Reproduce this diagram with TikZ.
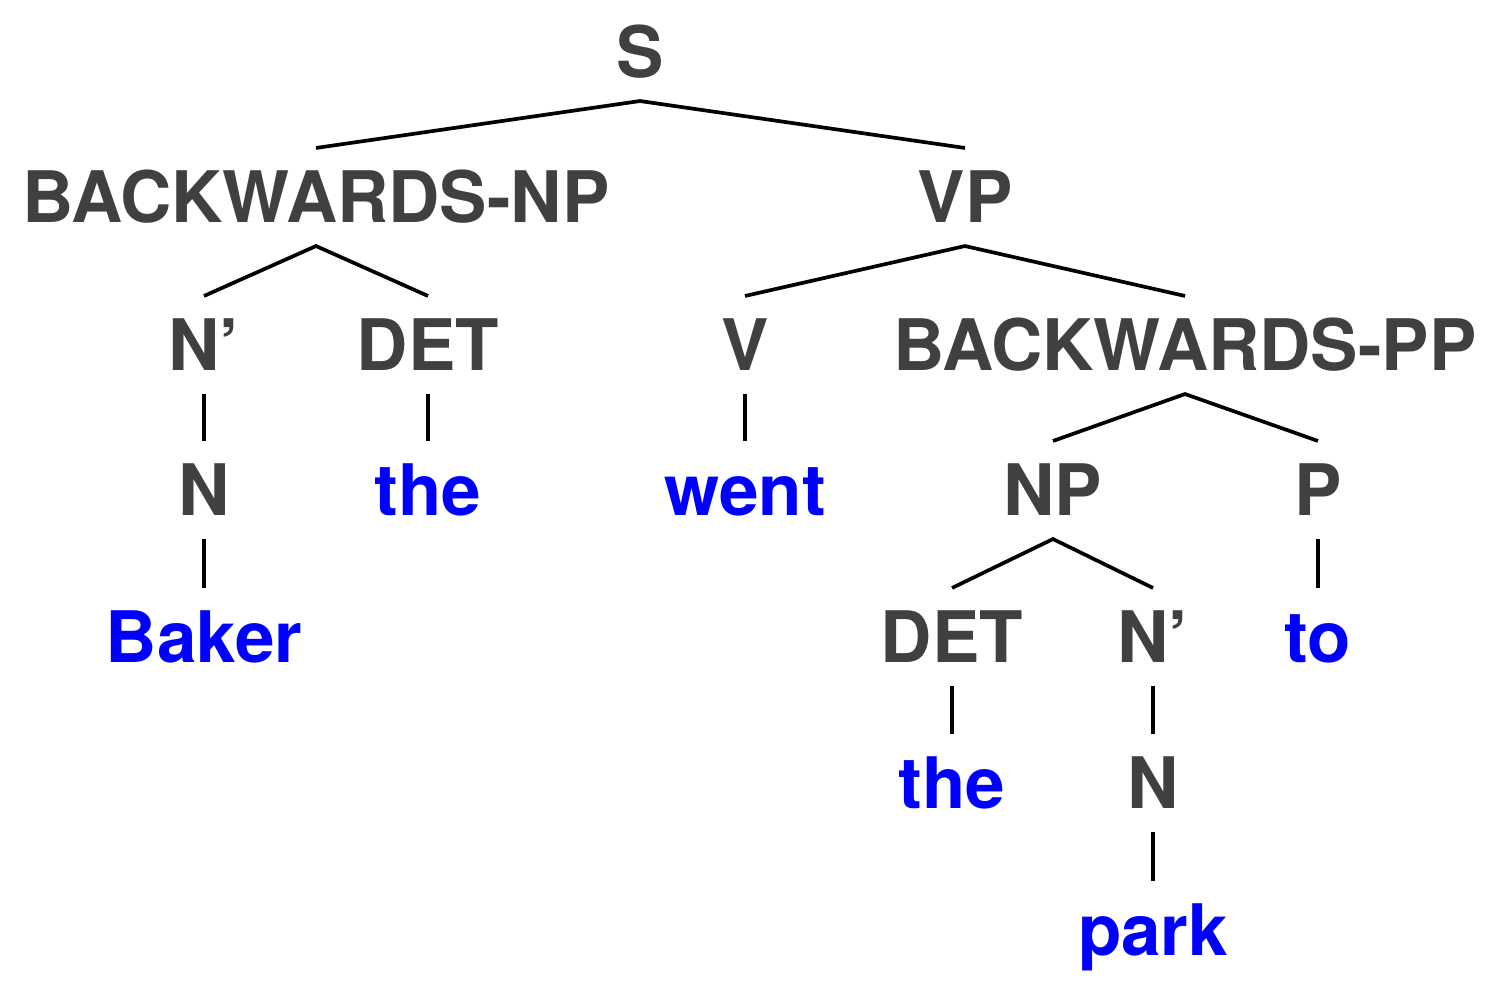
\documentclass[tikz,border=0pt]{standalone}
\usepackage{fontspec}
\setmainfont{TeX Gyre Heros}
\definecolor{catgray}{HTML}{404040}
\definecolor{wordblue}{HTML}{0000FF}
\begin{document}
\begin{tikzpicture}[x=0.01cm,y=-0.01cm,
  lab/.style={anchor=base,inner sep=0pt,outer xsep=0pt,outer ysep=0.24cm,
    text height=0.5cm,text depth=0pt,font=\fontsize{20.2}{24}\selectfont\bfseries},
  cat/.style={lab,text=catgray},
  word/.style={lab,text=wordblue},
  edge/.style={line width=1.05pt,black}]
\useasboundingbox (0,0) rectangle (1500,993);
\node[cat] (S) at (640,77) {S};
\node[cat] (BNP) at (316,222) {BACKWARDS-NP};
\node[cat] (VP) at (965,222) {VP};
\node[cat] (Nb1) at (204,370) {N’};
\node[cat] (DET1) at (428,370) {DET};
\node[cat] (V) at (745,370) {V};
\node[cat] (BPP) at (1185,370) {BACKWARDS-PP};
\node[cat] (N1) at (204,515) {N};
\node[word] (the1) at (428,515) {the};
\node[word] (went) at (745,515) {went};
\node[cat] (NP) at (1053,515) {NP};
\node[cat] (P) at (1318,515) {P};
\node[word] (Baker) at (204,662) {Baker};
\node[cat] (DET2) at (952,662) {DET};
\node[cat] (Nb2) at (1153,662) {N’};
\node[word] (to) at (1318,662) {to};
\node[word] (the2) at (952,808) {the};
\node[cat] (N2) at (1153,808) {N};
\node[word] (park) at (1153,955) {park};
\draw[edge] (BNP.north) -- (S.south) -- (VP.north);
\draw[edge] (Nb1.north) -- (BNP.south) -- (DET1.north);
\draw[edge] (V.north) -- (VP.south) -- (BPP.north);
\draw[edge] (Nb1.south) -- (N1.north);
\draw[edge] (DET1.south) -- (the1.north);
\draw[edge] (V.south) -- (went.north);
\draw[edge] (NP.north) -- (BPP.south) -- (P.north);
\draw[edge] (N1.south) -- (Baker.north);
\draw[edge] (DET2.north) -- (NP.south) -- (Nb2.north);
\draw[edge] (P.south) -- (to.north);
\draw[edge] (DET2.south) -- (the2.north);
\draw[edge] (Nb2.south) -- (N2.north);
\draw[edge] (N2.south) -- (park.north);
\end{tikzpicture}
\end{document}
